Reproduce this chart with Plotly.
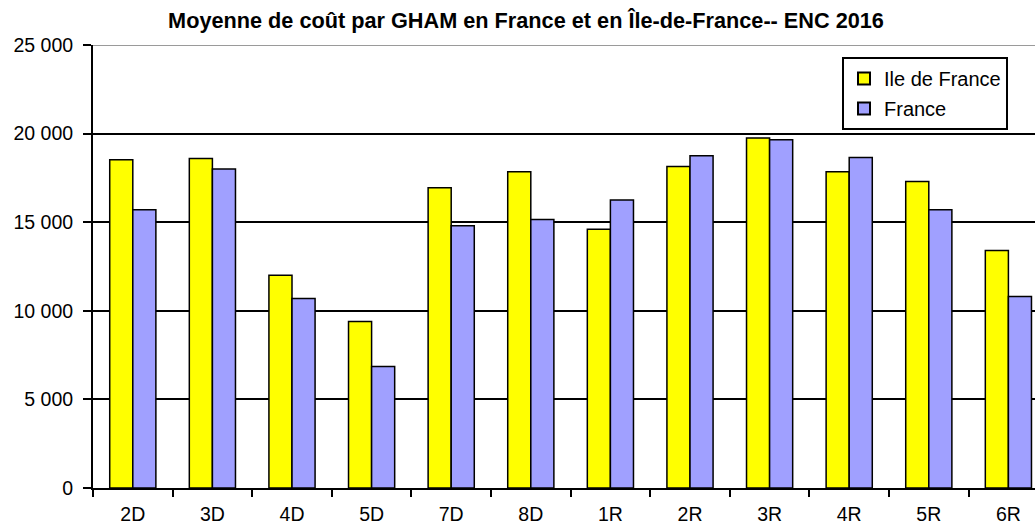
import plotly.graph_objects as go

categories = ["2D", "3D", "4D", "5D", "7D", "8D", "1R", "2R", "3R", "4R", "5R", "6R"]
ile_de_france = [18530, 18600, 12000, 9400, 16950, 17850, 14600, 18150, 19750, 17850, 17300, 13400]
france = [15700, 18000, 10700, 6850, 14800, 15150, 16250, 18750, 19650, 18650, 15700, 10800]
y_tickvals = [0, 5000, 10000, 15000, 20000, 25000]
y_ticktext = ["0", "5 000", "10 000", "15 000", "20 000", "25 000"]

FONT = "Liberation Sans, Arial, sans-serif"

W, H = 1035, 532
plot_left, plot_right, plot_top, plot_bottom = 93, 1035, 45, 488

fig = go.Figure()
fig.add_trace(go.Bar(
    x=categories, y=ile_de_france, name="Ile de France",
    marker=dict(color="#FFFF00", line=dict(color="black", width=1.5)),
    legendgroup="a",
))
fig.add_trace(go.Bar(
    x=categories, y=france, name="France",
    marker=dict(color="#A0A0FF", line=dict(color="black", width=1.5)),
    legendgroup="b",
))

fig.add_shape(type="line", xref="paper", yref="y", x0=0, x1=1, y0=25000, y1=25000,
              line=dict(color="#9a9a9a", width=2), layer="below")

pw = plot_right - plot_left
ph = plot_bottom - plot_top

fig.update_layout(
    width=W, height=H,
    margin=dict(l=plot_left, r=W - plot_right, t=plot_top, b=H - plot_bottom, autoexpand=False),
    paper_bgcolor="white", plot_bgcolor="white",
    font=dict(family=FONT, size=19.5, color="black"),
    title=dict(text="<b>Moyenne de coût par GHAM en France et en Île-de-France-- ENC 2016</b>",
               x=526 / W, xanchor="center", xref="container",
               y=1 - 20 / H, yanchor="middle",
               font=dict(family=FONT, size=21.7, color="black")),
    barmode="group", bargap=0.42, bargroupgap=0,
    showlegend=True,
    legend=dict(x=(1008 - plot_left) / pw, xanchor="right", y=(plot_bottom - 57) / ph, yanchor="top",
                bordercolor="black", borderwidth=2, bgcolor="white",
                font=dict(family=FONT, size=20, color="black"),
                tracegroupgap=1, itemsizing="constant"),
    xaxis=dict(range=[-0.5, -0.5 + pw / 79.6], showgrid=False, automargin=False,
               showline=True, linecolor="black", linewidth=2,
               ticks="outside", tickson="boundaries", ticklen=7, tickcolor="black", tickwidth=2,
               ticklabelstandoff=8, fixedrange=True),
    yaxis=dict(range=[0, 25000], tickvals=y_tickvals, ticktext=y_ticktext, automargin=False,
               showgrid=True, gridcolor="black", gridwidth=1.5,
               showline=True, linecolor="black", linewidth=2, zeroline=False,
               ticks="outside", ticklen=8, tickcolor="black", tickwidth=2,
               ticklabelstandoff=6, fixedrange=True),
)

fig.write_html("out.html", config={"displayModeBar": False},
               post_script="document.body.style.margin='0';document.body.style.padding='0';")
